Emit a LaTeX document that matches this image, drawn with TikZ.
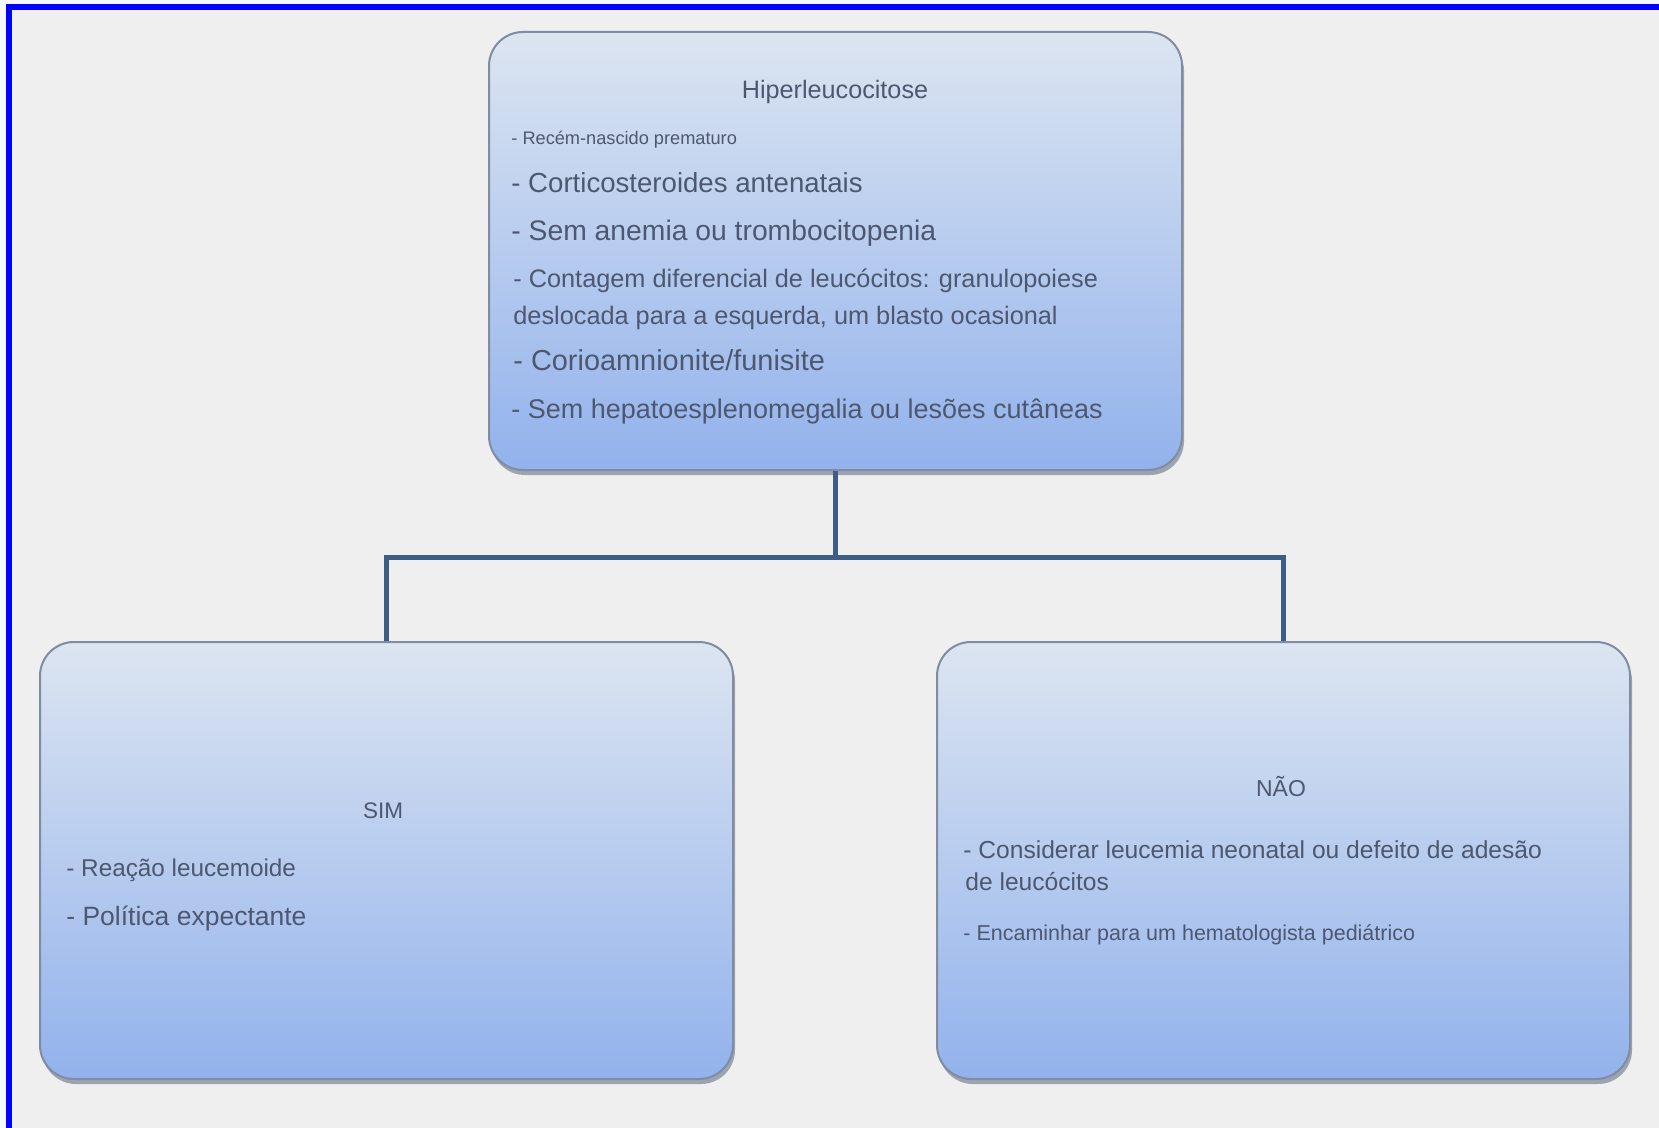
\documentclass[tikz,border=0pt]{standalone}
\usepackage{fontspec}
\setmainfont{Liberation Sans}
\usetikzlibrary{shadows}
\definecolor{pagebg}{HTML}{EFEFEF}
\definecolor{outerbg}{HTML}{F4F8FC}
\definecolor{frameblue}{HTML}{0000FF}
\definecolor{boxtop}{HTML}{DCE5F1}
\definecolor{boxbottom}{HTML}{92B2EC}
\definecolor{boxline}{HTML}{7F8CA2}
\definecolor{linkblue}{HTML}{3F5D84}
\definecolor{inktext}{HTML}{4D5870}
\definecolor{shadowink}{HTML}{4E5873}
\tikzset{
  flowbox/.style={
    rectangle, rounded corners=17pt, draw=boxline, line width=1pt,
    top color=boxtop, bottom color=boxbottom,
    minimum width=346.5pt, minimum height=218.5pt,
    drop shadow={shadow xshift=1pt, shadow yshift=-2.5pt, opacity=0.5, fill=shadowink}
  },
  flowlink/.style={line width=2.5pt, color=linkblue},
  boxtext/.style={inner sep=0pt, anchor=mid west, text=inktext},
  boxhead/.style={inner sep=0pt, anchor=mid, text=inktext},
}
\begin{document}
\begin{tikzpicture}[x=0.5pt, y=-0.5pt]
  \useasboundingbox (0,0) rectangle (1659,1128);
  \fill[outerbg] (0,0) rectangle (1659,1128);
  \fill[pagebg] (12,10) rectangle (1659,1128);
  \fill[frameblue] (6,4) rectangle (12,1128);
  \fill[frameblue] (6,4) rectangle (1659,10);

  \node[flowbox, minimum height=219pt] (hiper) at (835.5,251) {};
  \node[flowbox] (sim) at (386.5,860.5) {};
  \node[flowbox] (nao) at (1283.5,860.5) {};

  \coordinate (junc) at (835.5,557);
  \draw[flowlink] (hiper.south) -- (junc);
  \draw[flowlink] (sim.north) |- (junc) -| (nao.north);

  \node[boxhead, font=\fontsize{12.6}{15}\selectfont] (title) at (835,93) {Hiperleucocitose};
  \node[boxtext, font=\fontsize{9.1}{11}\selectfont] (recem) at (511,139) {- Recém-nascido prematuro};
  \node[boxtext, font=\fontsize{13.8}{16}\selectfont] (cortico) at (511,187) {- Corticosteroides antenatais};
  \node[boxtext, font=\fontsize{14.15}{17}\selectfont] (anemia) at (511,235) {- Sem anemia ou trombocitopenia};
  \node[boxtext, font=\fontsize{12.65}{15}\selectfont] (contagemA) at (513,282) {- Contagem diferencial de leucócitos: granulopoiese};
  \node[boxtext, font=\fontsize{12.65}{15}\selectfont] (contagemB) at (513,319) {deslocada para a esquerda, um blasto ocasional};
  \node[boxtext, font=\fontsize{14.45}{17}\selectfont] (corio) at (513,365) {- Corioamnionite/funisite};
  \node[boxtext, font=\fontsize{13.5}{16}\selectfont] (hepato) at (511,413) {- Sem hepatoesplenomegalia ou lesões cutâneas};

  \node[boxhead, font=\fontsize{11.25}{14}\selectfont] (simhead) at (383,813) {SIM};
  \node[boxtext, font=\fontsize{12.15}{15}\selectfont] (reacao) at (66,871) {- Reação leucemoide};
  \node[boxtext, font=\fontsize{13.25}{16}\selectfont] (politica) at (66,920) {- Política expectante};

  \node[boxhead, font=\fontsize{11.5}{14}\selectfont] (naohead) at (1281,791) {NÃO};
  \node[boxtext, font=\fontsize{12.3}{15}\selectfont] (considA) at (963,853) {- Considerar leucemia neonatal ou defeito de adesão};
  \node[boxtext, font=\fontsize{12.3}{15}\selectfont] (considB) at (965,885) {de leucócitos};
  \node[boxtext, font=\fontsize{10.75}{13}\selectfont] (encam) at (963,935) {- Encaminhar para um hematologista pediátrico};
\end{tikzpicture}
\end{document}
